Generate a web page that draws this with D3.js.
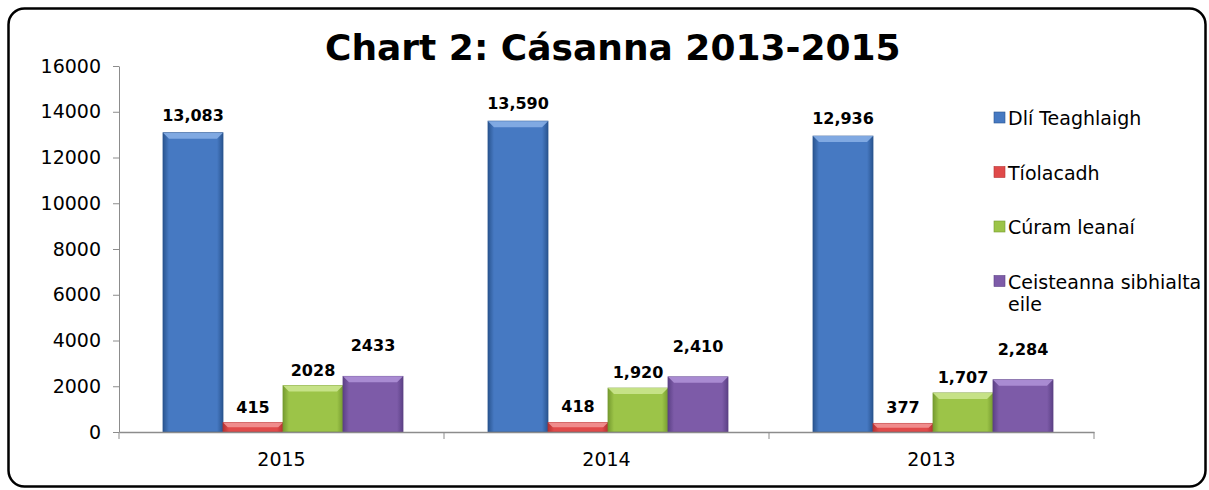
<!DOCTYPE html>
<html>
<head>
<meta charset="utf-8">
<script src="https://cdn.jsdelivr.net/npm/d3@7"></script>
<style>
  body { margin: 0; background: #fff; }
  svg text { font-family: "DejaVu Sans", Verdana, sans-serif; }
</style>
</head>
<body>
<script>
// data
let years = ["2015", "2014", "2013"];
let seriesNames = ["Dlí Teaghlaigh", "Tíolacadh", "Cúram leanaí", "Ceisteanna sibhialta eile"];
let dliValues = [13083, 13590, 12936];
let tiolValues = [415, 418, 377];
let curamValues = [2028, 1920, 1707];
let eileValues = [2433, 2410, 2284];
let dliLabels = ["13,083", "13,590", "12,936"];
let tiolLabels = ["415", "418", "377"];
let curamLabels = ["2028", "1,920", "1,707"];
let eileLabels = ["2433", "2,410", "2,284"];
let yTicks = [0, 2000, 4000, 6000, 8000, 10000, 12000, 14000, 16000];

let colors = [
  {base: "#4679c2", dark: "#2a5590", light: "#86aee6"},
  {base: "#e04a4a", dark: "#b53232", light: "#f29494"},
  {base: "#9cc448", dark: "#769b30", light: "#cbe68e"},
  {base: "#7d5ba8", dark: "#5c4186", light: "#ae90d6"}
];
let labelLift = [12, 10, 10, 25];

let series = [dliValues, tiolValues, curamValues, eileValues];
let labels = [dliLabels, tiolLabels, curamLabels, eileLabels];

let W = 1209, H = 490;
let svg = d3.select("body").append("svg").attr("width", W).attr("height", H);

// frame
svg.append("rect")
  .attr("x", 8.5).attr("y", 8.5).attr("width", 1197).attr("height", 478)
  .attr("rx", 16).attr("ry", 16)
  .attr("fill", "none").attr("stroke", "#000").attr("stroke-width", 2.5);

let x0 = d3.scaleBand().domain(years).range([119, 1094]).paddingInner(0).paddingOuter(0);
let x1 = d3.scaleBand().domain(d3.range(4)).range([44, 284]);
let y = d3.scaleLinear().domain([0, 16000]).range([432, 66]);

// gradients
let defs = svg.append("defs");
colors.forEach(function(c, i) {
  let g = defs.append("linearGradient").attr("id", "grad" + i)
    .attr("x1", "0%").attr("x2", "100%").attr("y1", "0%").attr("y2", "0%");
  g.append("stop").attr("offset", "0%").attr("stop-color", c.dark);
  g.append("stop").attr("offset", "10%").attr("stop-color", c.base);
  g.append("stop").attr("offset", "90%").attr("stop-color", c.base);
  g.append("stop").attr("offset", "100%").attr("stop-color", c.dark);
});

// axes
let yAxis = d3.axisLeft(y).tickValues(yTicks).tickSize(6).tickSizeOuter(0).tickFormat(d3.format("d"));
let gy = svg.append("g").attr("transform", "translate(119,0)").call(yAxis);
gy.select(".domain").attr("stroke", "#8c8c8c");
gy.selectAll(".tick line").attr("stroke", "#8c8c8c");
gy.selectAll(".tick text").attr("font-size", 19).attr("fill", "#000").attr("x", -18)
  .attr("font-family", "DejaVu Sans");

// bars
let groups = svg.selectAll(".year").data(years).enter().append("g")
  .attr("class", "year")
  .attr("transform", function(d) { return "translate(" + x0(d) + ",0)"; });

groups.each(function(yr, yi) {
  let g = d3.select(this);
  series.forEach(function(vals, si) {
    let v = vals[yi];
    let bx = x1(si), bw = x1.bandwidth();
    let top = y(v), bh = y(0) - top;
    let c = colors[si];
    g.append("rect").attr("x", bx).attr("y", top).attr("width", bw).attr("height", bh)
      .attr("fill", "url(#grad" + si + ")").attr("stroke", c.dark).attr("stroke-width", 0.8);
    let bev = Math.min(6, bh / 2);
    g.append("path")
      .attr("d", "M" + bx + "," + top + "L" + (bx + bw) + "," + top +
        "L" + (bx + bw - bev) + "," + (top + bev) + "L" + (bx + bev) + "," + (top + bev) + "Z")
      .attr("fill", c.light).attr("opacity", 0.9);
    g.append("text")
      .attr("x", bx + bw / 2).attr("y", top - labelLift[si])
      .attr("text-anchor", "middle").attr("font-size", 16).attr("font-weight", "bold")
      .text(labels[si][yi]);
  });
});

let xAxis = d3.axisBottom(x0).tickSize(0).tickSizeOuter(0);
let gx = svg.append("g").attr("transform", "translate(0,432)").call(xAxis);
gx.select(".domain").attr("stroke", "#8c8c8c").attr("stroke-width", 1.5);
gx.selectAll(".tick text").attr("font-size", 19).attr("fill", "#000").attr("dy", 0).attr("y", 34)
  .attr("font-family", "DejaVu Sans");
// boundary ticks between categories
let bounds = years.map(function(d) { return x0(d); }).concat([x0(years[2]) + x0.bandwidth()]);
gx.selectAll(".bound").data(bounds).enter().append("line")
  .attr("x1", function(d) { return d; }).attr("x2", function(d) { return d; })
  .attr("y1", 0).attr("y2", 7).attr("stroke", "#8c8c8c");

// title
svg.append("text").attr("x", 325).attr("y", 60)
  .attr("font-size", 36).attr("font-weight", "bold")
  .text("Chart 2: Cásanna 2013-2015");

// legend
let leg = svg.append("g").attr("transform", "translate(994,118)");
seriesNames.forEach(function(name, i) {
  let row = leg.append("g").attr("transform", "translate(0," + (i * 54.5) + ")");
  row.append("rect").attr("x", 0).attr("y", -6).attr("width", 11).attr("height", 11)
    .attr("fill", colors[i].base).attr("stroke", colors[i].dark).attr("stroke-width", 0.6);
  let t = row.append("text").attr("x", 14).attr("y", 7).attr("font-size", 19);
  if (i === 3) {
    t.append("tspan").attr("x", 14).text("Ceisteanna sibhialta");
    t.append("tspan").attr("x", 14).attr("dy", 22).text("eile");
  } else {
    t.text(name);
  }
});
</script>
</body>
</html>
